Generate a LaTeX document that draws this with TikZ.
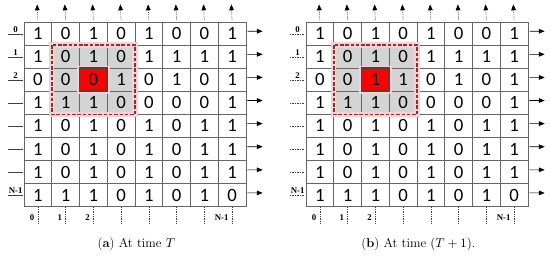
\documentclass[tikz,border=0pt]{standalone}
\usepackage{fontspec}
\newfontfamily\cellfont{Carlito}
\newfontfamily\lblfont{Liberation Serif}
\usetikzlibrary{arrows.meta}

\definecolor{boxbrown}{RGB}{125,60,25}
\definecolor{cellgray}{RGB}{212,212,212}
\definecolor{glowpink}{RGB}{250,205,222}

\tikzset{
  cell/.style={font=\cellfont\fontsize{16}{16}\selectfont, inner sep=0pt,
    minimum width=0.8325cm, minimum height=0.693cm},
  gridline/.style={draw=gray!80!black, line width=0.6pt},
  uparrow/.style={densely dotted, black, line width=0.5pt, -{Triangle[length=5pt,width=4pt,fill=black]}},
  outarrow/.style={black, line width=0.5pt, -{Triangle[length=5pt,width=4pt,fill=black]}},
  idxlbl/.style={font=\lblfont\bfseries\fontsize{7.5}{8}\selectfont, inner sep=1pt},
  caption/.style={font=\fontsize{11}{13}\selectfont, anchor=base},
}

% #1 panel name, #2 value of the centre cell, #3 style of row ticks, #4 caption
\newcommand{\statepanel}[4]{%
  % neighbourhood window
  \fill[cellgray] (1,1) rectangle (4,4);
  % grid lines
  \foreach \i in {0,...,8} {
    \draw[gridline] (\i,0) -- (\i,8);
    \draw[gridline] (0,\i) -- (8,\i);
  }
  \draw[glowpink, line width=4.5pt] (1,1) rectangle (4,4);
  \draw[glowpink, line width=4.5pt] (2,2) rectangle (3,3);
  \fill[red] (2,2) rectangle (3,3);
  \draw[brown!50!black, line width=1.6pt] (2,2) rectangle (3,3);
  \draw[boxbrown, line width=1.3pt, dash pattern=on 3pt off 1.5pt] (1,1) rectangle (4,4);

  % cell values
  \foreach \r/\vals in {0/{1,0,1,0,1,0,0,1}, 1/{1,0,1,0,1,1,1,1},
                        2/{0,0,#2,1,0,1,0,1}, 3/{1,1,1,0,0,0,0,1},
                        4/{1,0,1,0,1,0,1,1}, 5/{1,0,1,0,1,0,1,1},
                        6/{1,0,1,0,1,0,1,1}, 7/{1,1,1,0,1,0,1,0}} {
    \foreach \v [count=\c from 0] in \vals {
      \node[cell] (#1-\r-\c) at (\c+0.5,\r+0.5) {\v};
    }
  }

  % outputs: up and right
  \foreach \c in {0,...,7} {
    \coordinate (#1-up\c) at (\c+0.47,-0.76);
    \draw[uparrow] ([yshift=1.5pt]#1-0-\c.north) -- (#1-up\c);
  }
  \foreach \r in {0,...,7} {
    \coordinate (#1-out\r) at (8.6,\r+0.4);
    \draw[outarrow] ([xshift=1pt,yshift=2pt]#1-\r-7.east) -- (#1-out\r);
  }

  % row indices
  \foreach \r in {0,...,7} {
    \draw[#3, black!75, line width=0.4pt] (-0.57,\r+0.52) -- (-0.04,\r+0.52);
  }
  \foreach \r/\lbl in {0/0, 1/1, 2/2, 7/N-1} {
    \node[idxlbl, anchor=south] (#1-row\r) at (-0.3,\r+0.5) {\lbl};
  }

  % column indices
  \foreach \c in {0,...,7} {
    \coordinate (#1-dn\c) at (\c+0.5,8.7);
    \draw[densely dotted, black!75, line width=0.5pt] (#1-7-\c.south) -- (#1-dn\c);
  }
  \foreach \c/\lbl in {0/0, 1/1, 2/2, 7/N-1} {
    \node[idxlbl, anchor=east] (#1-col\c) at (\c+0.42,8.45) {\lbl};
  }

  \node[caption] (#1-cap) at (4.05,9.75) {#4};
}

\begin{document}
\begin{tikzpicture}
  \useasboundingbox (0,0) rectangle (16.5,-7.74);

  % (a) at time T
  \begin{scope}[xshift=0.72cm, yshift=-0.66cm, x=0.8325cm, y=-0.693cm]
    \statepanel{a}{0}{solid}{(\textbf{a}) At time $T$}
  \end{scope}

  % (b) at time T+1
  \begin{scope}[xshift=9.18cm, yshift=-0.66cm, x=0.8325cm, y=-0.693cm]
    \statepanel{b}{1}{densely dotted}{(\textbf{b}) At time $(T+1)$.}
  \end{scope}
\end{tikzpicture}
\end{document}
